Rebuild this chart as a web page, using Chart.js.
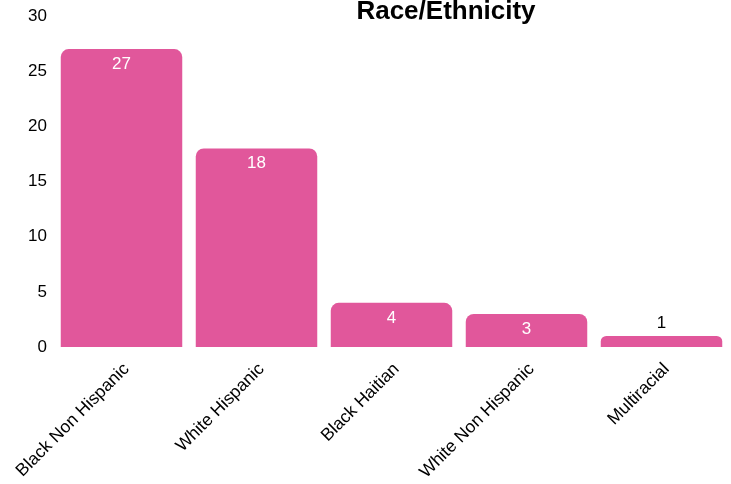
<!DOCTYPE html>
<html>
<head>
<meta charset="utf-8">
<script src="https://cdn.jsdelivr.net/npm/chart.js@4/dist/chart.umd.min.js"></script>
<style>
  html, body { margin: 0; padding: 0; background: #fff; }
  #wrap { width: 731px; height: 484px; }
</style>
</head>
<body>
<div id="wrap"><canvas id="Chart0"></canvas></div>
<script>
const categories = ['Black Non Hispanic', 'White Hispanic', 'Black Haitian', 'White Non Hispanic', 'Multiracial'];
const counts = [27, 18, 4, 3, 1];
const yTicks = [0, 5, 10, 15, 20, 25, 30];

const pink = '#E1579B';
const font = 'Liberation Sans, Arial, sans-serif';

// draws the value on each bar (white inside, black above if bar is short)
const valueLabels = {
    id: 'valueLabels',
    afterDatasetsDraw(chart) {
        const ctx = chart.ctx;
        const meta = chart.getDatasetMeta(0);
        ctx.save();
        ctx.font = '17px ' + font;
        ctx.textAlign = 'center';
        ctx.textBaseline = 'middle';
        meta.data.forEach((bar, i) => {
            const h = bar.base - bar.y;
            if (h > 25) {
                ctx.fillStyle = '#fff';
                ctx.fillText(counts[i], bar.x, bar.y + 15);
            } else {
                ctx.fillStyle = '#000';
                ctx.fillText(counts[i], bar.x, bar.y - 13);
            }
        });
        ctx.restore();
    }
};

// title sits off-centre and clipped at the top in the original
const topTitle = {
    id: 'topTitle',
    afterDraw(chart) {
        const ctx = chart.ctx;
        ctx.save();
        ctx.font = 'bold 26px ' + font;
        ctx.fillStyle = '#000';
        ctx.textAlign = 'center';
        ctx.textBaseline = 'alphabetic';
        ctx.fillText('Race/Ethnicity', 446, 19);
        ctx.restore();
    }
};

new Chart(document.getElementById('Chart0').getContext('2d'), {
    type: 'bar',
    data: {
        labels: categories,
        datasets: [{
            data: counts,
            backgroundColor: pink,
            borderWidth: 0,
            borderRadius: { topLeft: 8, topRight: 8 },
            borderSkipped: 'bottom',
            barPercentage: 0.9,
            categoryPercentage: 1.0
        }]
    },
    options: {
        responsive: true,
        maintainAspectRatio: false,
        animation: false,
        layout: { padding: { top: 16, left: 0, right: 2, bottom: 0 } },
        plugins: {
            legend: { display: false },
            title: { display: false },
            tooltip: { enabled: false }
        },
        scales: {
            x: {
                grid: { display: false, drawTicks: false },
                border: { display: false },
                afterFit(scale) {
                    scale.height = 137;
                    scale.paddingLeft = 0;
                    scale.paddingRight = 0;
                },
                ticks: {
                    color: '#000',
                    font: { family: font, size: 17.5 },
                    maxRotation: 45,
                    minRotation: 45,
                    padding: 12,
                    labelOffset: 5
                }
            },
            y: {
                min: 0,
                max: 30,
                grid: { display: false, drawTicks: false },
                border: { display: false },
                afterBuildTicks(scale) {
                    scale.ticks = yTicks.map(v => ({ value: v }));
                },
                afterFit(scale) {
                    scale.width = 54;
                    scale.paddingTop = 0;
                    scale.paddingBottom = 0;
                },
                ticks: {
                    color: '#000',
                    font: { family: font, size: 17 },
                    padding: 7
                }
            }
        }
    },
    plugins: [valueLabels, topTitle]
});
</script>
</body>
</html>
